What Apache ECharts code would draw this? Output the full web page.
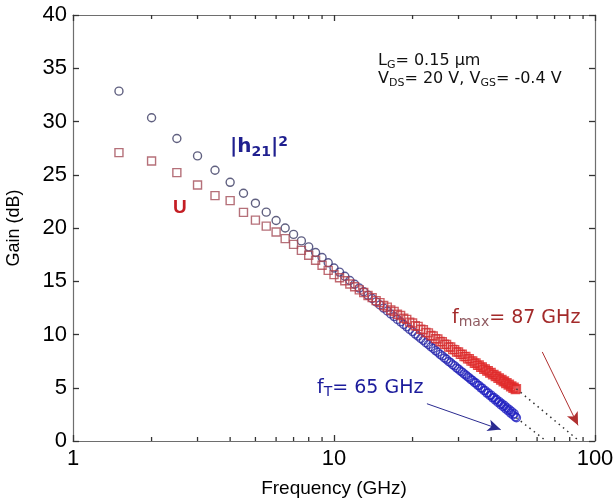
<!DOCTYPE html>
<html>
<head>
<meta charset="utf-8">
<script src="https://cdn.jsdelivr.net/npm/echarts@6/dist/echarts.min.js"></script>
<style>html,body{margin:0;background:#fff}#chart{width:616px;height:502px}</style>
</head>
<body>
<div id="chart"></div>
<script>
// frequency points (GHz)
const freq = [
  1.5, 2, 2.5, 3, 3.5, 4, 4.5, 5, 5.5, 6,
  6.5, 7, 7.5, 8, 8.5, 9, 9.5, 10, 10.5, 11,
  11.5, 12, 12.5, 13, 13.5, 14, 14.5, 15, 15.5, 16,
  16.5, 17, 17.5, 18, 18.5, 19, 19.5, 20, 20.5, 21,
  21.5, 22, 22.5, 23, 23.5, 24, 24.5, 25, 25.5, 26,
  26.5, 27, 27.5, 28, 28.5, 29, 29.5, 30, 30.5, 31,
  31.5, 32, 32.5, 33, 33.5, 34, 34.5, 35, 35.5, 36,
  36.5, 37, 37.5, 38, 38.5, 39, 39.5, 40, 40.5, 41,
  41.5, 42, 42.5, 43, 43.5, 44, 44.5, 45, 45.5, 46,
  46.5, 47, 47.5, 48, 48.5, 49, 49.5, 50
];
// |h21|^2 (dB)
const h21 = [
  32.85, 30.35, 28.40, 26.77, 25.42, 24.29, 23.26, 22.33, 21.49, 20.70,
  20.00, 19.40, 18.79, 18.23, 17.70, 17.23, 16.74, 16.24, 15.86, 15.47,
  15.07, 14.72, 14.36, 14.02, 13.68, 13.38, 13.06, 12.77, 12.48, 12.21,
  11.93, 11.68, 11.42, 11.19, 10.94, 10.72, 10.48, 10.27, 10.04, 9.85,
  9.62, 9.45, 9.23, 9.06, 8.85, 8.69, 8.49, 8.33, 8.13, 7.99,
  7.80, 7.67, 7.47, 7.35, 7.16, 7.05, 6.86, 6.75, 6.57, 6.47,
  6.30, 6.19, 6.03, 5.93, 5.75, 5.68, 5.49, 5.44, 5.24, 5.20,
  4.99, 4.96, 4.74, 4.73, 4.50, 4.52, 4.27, 4.31, 4.05, 4.09,
  3.84, 3.90, 3.62, 3.70, 3.41, 3.50, 3.22, 3.33, 3.01, 3.12,
  2.83, 2.94, 2.62, 2.76, 2.45, 2.57, 2.27, 2.18
];
// U (dB)
const gainU = [
  27.08, 26.29, 25.20, 24.04, 23.04, 22.57, 21.47, 20.74, 20.18, 19.62,
  19.00, 18.46, 17.90, 17.44, 16.97, 16.50, 16.02, 15.62, 15.33, 15.04,
  14.74, 14.48, 14.19, 13.95, 13.66, 13.46, 13.18, 12.99, 12.73, 12.57,
  12.30, 12.16, 11.90, 11.78, 11.52, 11.42, 11.16, 11.08, 10.82, 10.76,
  10.50, 10.45, 10.19, 10.15, 9.90, 9.86, 9.61, 9.58, 9.34, 9.32,
  9.08, 9.06, 8.83, 8.82, 8.59, 8.58, 8.36, 8.35, 8.13, 8.14,
  7.92, 7.93, 7.71, 7.72, 7.50, 7.52, 7.30, 7.33, 7.10, 7.14,
  6.92, 6.95, 6.74, 6.77, 6.57, 6.60, 6.39, 6.43, 6.21, 6.26,
  6.04, 6.10, 5.88, 5.93, 5.72, 5.78, 5.56, 5.63, 5.40, 5.47,
  5.25, 5.33, 5.10, 5.18, 4.95, 5.04, 4.82, 4.90
];
// dotted -20 dB/dec extrapolations
const ftLine = [[50, 2.18], [65, 0]];
const fmaxLine = [[50, 4.90], [87, 0]];
// annotation arrows (start, end)
const ftArrow = [[22.7, 3.5], [43.5, 1.07]];
const fmaxArrow = [[62.8, 8.36], [86.1, 1.47]];
// log minor ticks
const minorTicks = [2, 3, 4, 5, 6, 7, 8, 9, 20, 30, 40, 50, 60, 70, 80, 90];

const axisColor = '#6e6e6e';
const tickColor = '#333';

function hex2rgb(h) {
  return [parseInt(h.substr(1, 2), 16), parseInt(h.substr(3, 2), 16), parseInt(h.substr(5, 2), 16)];
}
// markers get brighter towards high frequency
function shade(c0, c1, f) {
  var t = (Math.log10(f) - Math.log10(7)) / (Math.log10(35) - Math.log10(7));
  t = Math.max(0, Math.min(1, t));
  var a = hex2rgb(c0), b = hex2rgb(c1);
  return 'rgb(' + a.map((v, i) => Math.round(v + (b[i] - v) * t)).join(',') + ')';
}

const circleData = freq.map((f, i) => ({
  value: [f, h21[i]],
  itemStyle: { borderColor: shade('#383860', '#2020c0', f) }
}));
const squareData = freq.map((f, i) => ({
  value: [f, gainU[i]],
  itemStyle: { borderColor: shade('#a24c58', '#e02828', f) }
}));

// minor ticks: bottom frame (y=0) pointing up, top frame (y=40) pointing down
const minorTickData = minorTicks.map(v => [v, 0, -1]).concat(minorTicks.map(v => [v, 40, 1]));

const tickFont = 'Liberation Sans, Arial, sans-serif';
const noteFont = 'DejaVu Sans, sans-serif';

var option = {
  animation: false,
  backgroundColor: '#fff',
  grid: { left: 73, right: 21, top: 15, bottom: 61, outerBoundsMode: 'none' },
  xAxis: [
    {
      type: 'log', logBase: 10, min: 1, max: 100, position: 'bottom',
      name: 'Frequency (GHz)', nameLocation: 'middle', nameGap: 38,
      nameTextStyle: { fontSize: 19, color: '#000', fontFamily: tickFont },
      axisLine: { onZero: false, lineStyle: { color: axisColor, width: 1.2 } },
      axisTick: { inside: true, length: 6, lineStyle: { color: tickColor, width: 1.3 } },
      axisLabel: { fontSize: 22, color: '#000', margin: 7, fontFamily: tickFont },
      splitLine: { show: false }
    },
    {
      type: 'log', logBase: 10, min: 1, max: 100, position: 'top',
      axisLine: { onZero: false, lineStyle: { color: axisColor, width: 1.2 } },
      axisTick: { inside: true, length: 6, lineStyle: { color: tickColor, width: 1.3 } },
      axisLabel: { show: false },
      splitLine: { show: false }
    }
  ],
  yAxis: [
    {
      type: 'value', min: 0, max: 40, interval: 5, position: 'left',
      name: 'Gain (dB)', nameLocation: 'middle', nameGap: 50, nameRotate: 90,
      nameTextStyle: { fontSize: 18, color: '#000', fontFamily: tickFont },
      axisLine: { show: true, onZero: false, lineStyle: { color: axisColor, width: 1.2 } },
      axisTick: { show: true, inside: true, length: 6, lineStyle: { color: tickColor, width: 1.3 } },
      axisLabel: { fontSize: 22, color: '#000', margin: 6, fontFamily: tickFont },
      splitLine: { show: false }
    },
    {
      type: 'value', min: 0, max: 40, interval: 5, position: 'right',
      axisLine: { show: true, onZero: false, lineStyle: { color: axisColor, width: 1.2 } },
      axisTick: { show: true, inside: true, length: 6, lineStyle: { color: tickColor, width: 1.3 } },
      axisLabel: { show: false },
      splitLine: { show: false }
    }
  ],
  series: [
    {
      type: 'custom', silent: true, clip: false, z: 10,
      data: minorTickData,
      renderItem: function (params, api) {
        var p = api.coord([api.value(0), api.value(1)]);
        return {
          type: 'line',
          shape: { x1: p[0], y1: p[1], x2: p[0], y2: p[1] + api.value(2) * 4 },
          style: { stroke: tickColor, lineWidth: 1.3 }
        };
      }
    },
    {
      name: 'ft extrapolation', type: 'line', data: ftLine, showSymbol: false, silent: true,
      lineStyle: { color: '#333', width: 1.5, type: [1.5, 4] }
    },
    {
      name: 'fmax extrapolation', type: 'line', data: fmaxLine, showSymbol: false, silent: true,
      lineStyle: { color: '#333', width: 1.5, type: [1.5, 4] }
    },
    {
      name: '|h21|^2', type: 'scatter', data: circleData,
      symbol: 'circle', symbolSize: 8,
      itemStyle: { color: 'rgba(0,0,0,0)', borderWidth: 1.4 }
    },
    {
      name: 'U', type: 'scatter', data: squareData,
      symbol: 'rect', symbolSize: 8,
      itemStyle: { color: 'rgba(0,0,0,0)', borderWidth: 1.4 },
      markLine: {
        silent: true, animation: false,
        symbol: ['none', 'arrow'], symbolSize: [9, 13],
        label: { show: false },
        data: [
          [{ coord: ftArrow[0], lineStyle: { color: '#2a2a90', width: 1, type: 'solid' } },
           { coord: ftArrow[1] }],
          [{ coord: fmaxArrow[0], lineStyle: { color: '#b03030', width: 1, type: 'solid' } },
           { coord: fmaxArrow[1] }]
        ]
      }
    }
  ],
  graphic: [
    {
      type: 'text', x: 378, y: 51,
      style: {
        text: '{b|L}{s|G}{b|= 0.15 μm}',
        verticalAlign: 'top',
        rich: {
          b: { fontSize: 16, fontFamily: noteFont, fill: '#111', lineHeight: 20 },
          s: { fontSize: 11, fontFamily: noteFont, fill: '#111', lineHeight: 10, verticalAlign: 'bottom' }
        }
      }
    },
    {
      type: 'text', x: 378, y: 69,
      style: {
        text: '{b|V}{s|DS}{b|= 20 V, V}{s|GS}{b|= -0.4 V}',
        verticalAlign: 'top',
        rich: {
          b: { fontSize: 16, fontFamily: noteFont, fill: '#111', lineHeight: 20 },
          s: { fontSize: 11, fontFamily: noteFont, fill: '#111', lineHeight: 10, verticalAlign: 'bottom' }
        }
      }
    },
    {
      type: 'text', x: 230, y: 135,
      style: {
        text: '{b||h}{s|21}{b||}{p|2}',
        verticalAlign: 'top',
        rich: {
          b: { fontSize: 20, fontWeight: 'bold', fontFamily: noteFont, fill: '#1f1f8f', lineHeight: 24 },
          s: { fontSize: 14, fontWeight: 'bold', fontFamily: noteFont, fill: '#1f1f8f', lineHeight: 8, verticalAlign: 'bottom' },
          p: { fontSize: 14, fontWeight: 'bold', fontFamily: noteFont, fill: '#1f1f8f', lineHeight: 10, verticalAlign: 'top' }
        }
      }
    },
    {
      type: 'text', x: 173, y: 198,
      style: { text: 'U', verticalAlign: 'top', font: 'bold 19px ' + tickFont, fill: '#c41e24' }
    },
    {
      type: 'text', x: 452, y: 307,
      style: {
        text: '{b|f}{s|max}{b|= 87 GHz}',
        verticalAlign: 'top',
        rich: {
          b: { fontSize: 19, fontFamily: noteFont, fill: '#a32a2a', lineHeight: 22 },
          s: { fontSize: 14, fontFamily: noteFont, fill: '#8f5a60', lineHeight: 10, verticalAlign: 'bottom' }
        }
      }
    },
    {
      type: 'text', x: 317, y: 377,
      style: {
        text: '{b|f}{s|T}{b|= 65 GHz}',
        verticalAlign: 'top',
        rich: {
          b: { fontSize: 19, fontFamily: noteFont, fill: '#1c1c9c', lineHeight: 22 },
          s: { fontSize: 14, fontFamily: noteFont, fill: '#1c1c9c', lineHeight: 10, verticalAlign: 'bottom' }
        }
      }
    }
  ]
};

var myChart = echarts.init(document.getElementById('chart'));
myChart.setOption(option);
</script>
</body>
</html>
